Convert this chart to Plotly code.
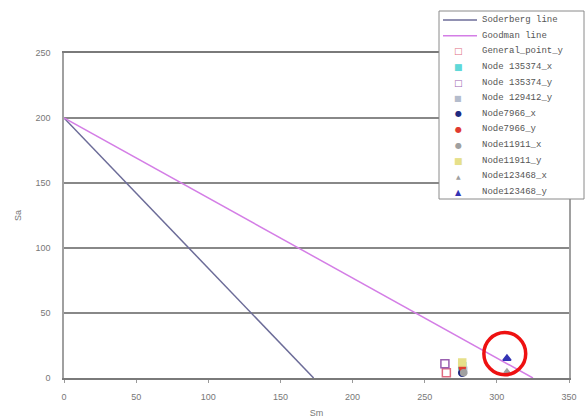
import plotly.graph_objects as go

# Fatigue criteria lines (Sm on x, Sa on y)
soderberg_sm = [0, 173]
soderberg_sa = [200, 0]
goodman_sm = [0, 325]
goodman_sa = [200, 0]

# Evaluated stress points
point_names = ["General_point_y", "Node 135374_x", "Node 135374_y", "Node 129412_y",
               "Node7966_x", "Node7966_y", "Node11911_x", "Node11911_y",
               "Node123468_x", "Node123468_y"]
point_sm = [265, 276, 264, 277, 276, 276, 277, 276, 307, 307]
point_sa = [4, 9, 11, 6, 4, 8, 4, 12, 5, 15]
point_colors = ["#e06a80", "#5fd8d8", "#9a60b0", "#b4bccc",
                "#202a80", "#e03a30", "#a0a0a0", "#e6e08a",
                "#a0a0a0", "#3434b4"]
point_symbols = ["square-open", "square", "square-open", "square",
                 "circle", "circle", "circle", "square",
                 "triangle-up", "triangle-up"]
point_sizes = [8, 7, 8, 6, 7, 6, 6, 7, 5, 7]
# glyphs used for the legend swatches
point_glyphs = ["□", "■", "□", "■", "●", "●", "●", "■", "▲", "▲"]
glyph_sizes = [9, 9, 9, 8, 8, 8, 8, 9, 6, 8]

line_names = ["Soderberg line", "Goodman line"]
line_colors = ["#6c6c98", "#d47ee6"]

x_ticks = [0, 50, 100, 150, 200, 250, 300, 350]
y_ticks = [0, 50, 100, 150, 200, 250]

fig = go.Figure()

fig.add_trace(go.Scatter(x=soderberg_sm, y=soderberg_sa, mode="lines",
                         line=dict(color=line_colors[0], width=1.5),
                         name=line_names[0]))
fig.add_trace(go.Scatter(x=goodman_sm, y=goodman_sa, mode="lines",
                         line=dict(color=line_colors[1], width=1.5),
                         name=line_names[1]))

for name, sm, sa, col, sym, sz in zip(point_names, point_sm, point_sa,
                                      point_colors, point_symbols, point_sizes):
    fig.add_trace(go.Scatter(x=[sm], y=[sa], mode="markers", name=name,
                             marker=dict(color=col, symbol=sym, size=sz,
                                         line=dict(color=col, width=1.5))))

# Plot-area pixel frame, used to place the compact legend box
W, H = 586, 418
L, R, T, B = 64, 569, 53, 378


def px_x(p):
    return (p - L) / (R - L)


def px_y(p):
    return (B - p) / (B - T)


box_left, box_right, box_top, box_bottom = 439, 584, 11, 199
row0, row_gap = 20, 15.64
swatch_x, text_x = 458, 480

shapes = [dict(type="rect", xref="paper", yref="paper",
               x0=px_x(box_left), x1=px_x(box_right),
               y0=px_y(box_bottom), y1=px_y(box_top), fillcolor="white",
               line=dict(color="#8a8a8a", width=1), layer="above")]
annotations = []
all_names = line_names + point_names
for i, name in enumerate(all_names):
    yy = row0 + i * row_gap
    annotations.append(dict(x=px_x(text_x), y=px_y(yy), xref="paper", yref="paper",
                            text=name, showarrow=False, xanchor="left", yanchor="middle",
                            font=dict(family="Liberation Mono", size=9, color="#555555")))
for i, col in enumerate(line_colors):
    yy = row0 + i * row_gap
    shapes.append(dict(type="line", xref="paper", yref="paper",
                       x0=px_x(443), x1=px_x(477), y0=px_y(yy), y1=px_y(yy),
                       line=dict(color=col, width=1.5), layer="above"))
for i, (g, col, gs) in enumerate(zip(point_glyphs, point_colors, glyph_sizes)):
    yy = row0 + (i + 2) * row_gap
    annotations.append(dict(x=px_x(swatch_x), y=px_y(yy), xref="paper", yref="paper",
                            text=g, showarrow=False, xanchor="center", yanchor="middle",
                            font=dict(family="DejaVu Sans", size=gs, color=col)))

# Highlight ring around the critical node
shapes.append(dict(type="circle", xref="x", yref="y", x0=291, x1=320, y0=2.5, y1=35,
                   line=dict(color="#ee1111", width=3.5), layer="above"))

fig.update_layout(
    width=W, height=H,
    margin=dict(l=L, r=W - R, t=T, b=H - B, autoexpand=False),
    paper_bgcolor="white", plot_bgcolor="white",
    showlegend=False,
    shapes=shapes, annotations=annotations,
    font=dict(family="Liberation Sans", size=9, color="#777777"),
    xaxis=dict(range=[0, 350], tickvals=x_ticks, showgrid=False, zeroline=False,
               showline=True, linecolor="#7a7a7a", linewidth=1.5, mirror=True,
               ticks="outside", ticklen=3, tickcolor="#9a9a9a",
               ticklabelstandoff=6, automargin=False,
               title=dict(text="Sm", standoff=9, font=dict(size=9, color="#777777"))),
    yaxis=dict(range=[0, 250], tickvals=y_ticks, showgrid=True, gridcolor="#888888",
               gridwidth=1.5, zeroline=False, showline=True, linecolor="#a0a0a0",
               linewidth=1.5, mirror=True, ticks="", ticklabelstandoff=10,
               automargin=False,
               title=dict(text="Sa", standoff=12, font=dict(size=9, color="#777777"))),
)

fig.write_html("out.html")
